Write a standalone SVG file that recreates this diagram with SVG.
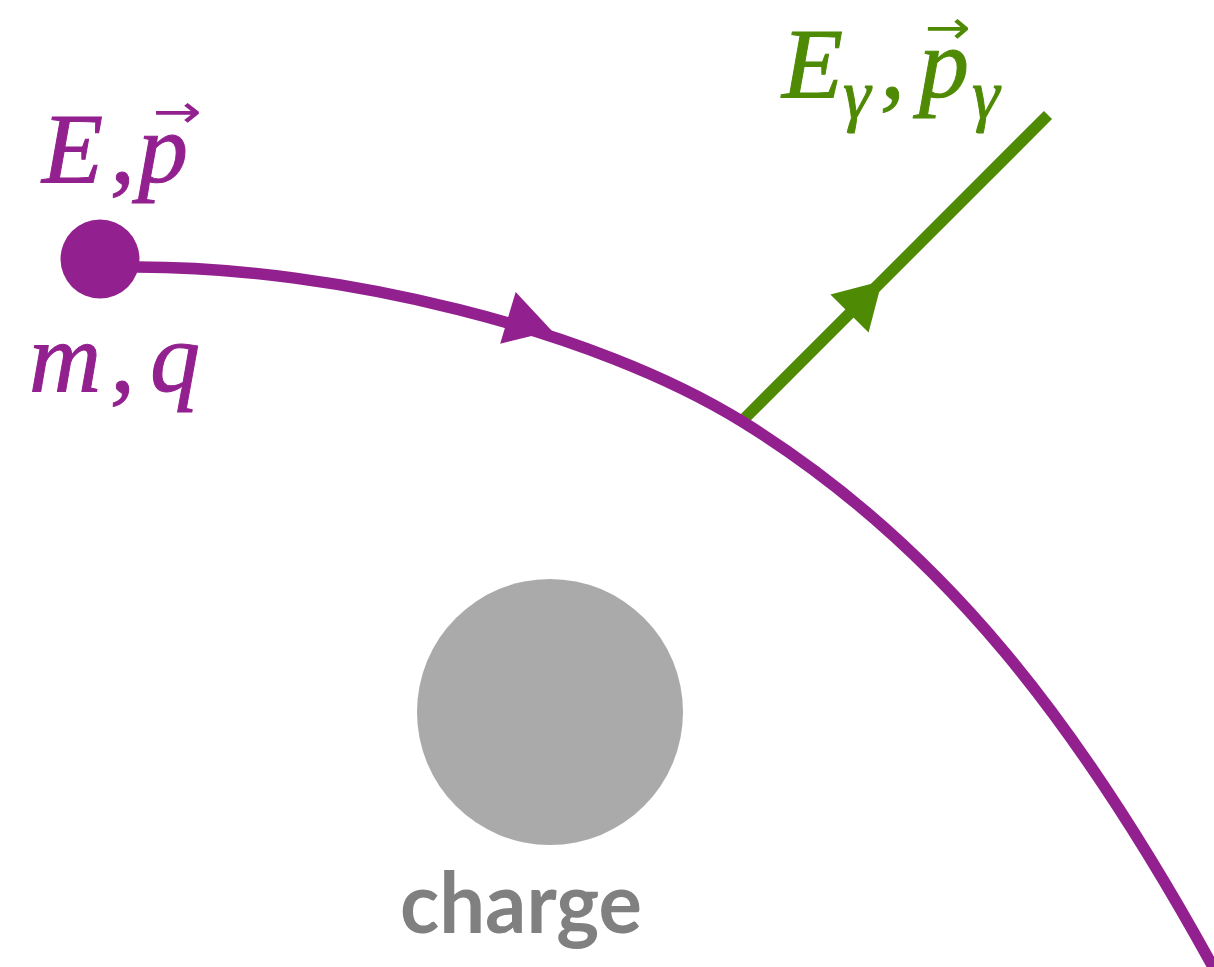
<svg xmlns="http://www.w3.org/2000/svg" width="1214" height="967" viewBox="0 0 1214 967">
  <style>
    .purple { fill: #93208f; }
    .green { fill: #4f8a05; }
    .math { font-family: 'Liberation Serif', 'DejaVu Serif', serif; font-style: italic; font-weight: 400; stroke-width: 1; }
    .math.purple { stroke: #93208f; }
    .math.green { stroke: #4f8a05; }
    .vec { font-family: 'DejaVu Sans', sans-serif; font-style: normal; }
    .traj { fill: none; stroke: #93208f; stroke-width: 11.5; }
    .photon { fill: none; stroke: #4f8a05; stroke-width: 11.5; }
    .label { font-family: Lato, 'Open Sans', sans-serif; font-weight: 700; fill: #808080; }
  </style>
  <defs>
    <marker id="arrowPurple" markerUnits="userSpaceOnUse" orient="auto" refX="0" refY="0" markerWidth="60" markerHeight="60" overflow="visible">
      <path d="M0,0 L-46,-27 L-46,27 Z" fill="#93208f"/>
    </marker>
    <marker id="arrowGreen" markerUnits="userSpaceOnUse" orient="auto" refX="0" refY="0" markerWidth="60" markerHeight="60" overflow="visible">
      <path d="M0,0 L-46,-27 L-46,27 Z" fill="#4f8a05"/>
    </marker>
  </defs>

  <g id="charge">
    <circle cx="550" cy="712" r="133" fill="#aaaaaa"/>
    <text class="label" x="400" y="933" font-size="84" textLength="242" lengthAdjust="spacingAndGlyphs">charge</text>
  </g>

  <g id="connectors">
    <g id="photon-line">
      <path class="photon" d="M743,420 L1048,115"/>
      <path d="M850,313 L882,281" fill="none" stroke="none" marker-end="url(#arrowGreen)"/>
    </g>
    <g id="trajectory">
      <path class="traj" d="M110,267 L137,267 C337,267 593,329 743,422 C945,547 1082,729 1212,965 L1224,986"/>
      <path d="M522,322 L552,331" fill="none" stroke="none" marker-end="url(#arrowPurple)"/>
    </g>
  </g>

  <g id="particle">
    <circle cx="100" cy="259" r="39.5" class="purple"/>
    <text class="math purple" font-size="100" y="182"><tspan x="42">E</tspan><tspan x="110">,</tspan><tspan x="138">p</tspan></text>
    <text class="vec purple" font-size="46" x="153" y="127" textLength="49" lengthAdjust="spacingAndGlyphs">→</text>
    <text class="math purple" font-size="100" y="391"><tspan x="29">m</tspan><tspan x="110">,</tspan><tspan x="150">q</tspan></text>
  </g>

  <g id="photon">
    <text class="math green" font-size="100" y="97"><tspan x="782">E</tspan><tspan x="843" y="118" font-size="70">γ</tspan><tspan x="880" y="97">,</tspan><tspan x="919">p</tspan><tspan x="972" y="118" font-size="70">γ</tspan></text>
    <text class="vec green" font-size="46" x="925" y="43" textLength="46" lengthAdjust="spacingAndGlyphs">→</text>
  </g>
</svg>
